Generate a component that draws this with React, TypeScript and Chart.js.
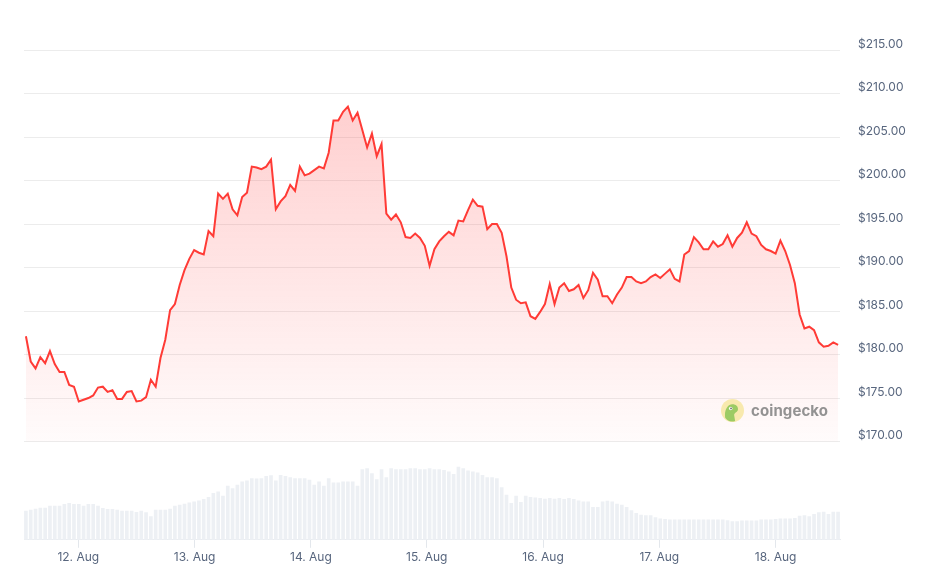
import React, { useEffect, useRef } from "react";
import { Chart, registerables } from "chart.js";

Chart.register(...registerables);

// Hourly samples (index = sample number)
const priceValues: number[] = [
  182.1, 179.2, 178.4, 179.7, 179.0, 180.4, 178.9, 178.0, 178.0, 176.5,
  176.3, 174.6, 174.8, 175.0, 175.3, 176.2, 176.3, 175.7, 175.9, 174.9,
  174.9, 175.7, 175.8, 174.6, 174.7, 175.1, 177.1, 176.3, 179.6, 181.7,
  185.1, 185.8, 188.0, 189.7, 191.0, 192.0, 191.7, 191.5, 194.2, 193.6,
  198.5, 197.9, 198.5, 196.7, 196.0, 198.1, 198.6, 201.6, 201.5, 201.3,
  201.6, 202.4, 196.7, 197.6, 198.2, 199.5, 198.8, 201.6, 200.6, 200.8,
  201.2, 201.6, 201.4, 203.2, 206.9, 206.9, 207.9, 208.5, 206.9, 207.8,
  205.8, 203.8, 205.4, 202.8, 204.2, 196.2, 195.5, 196.1, 195.2, 193.5,
  193.4, 193.9, 193.4, 192.5, 190.2, 192.1, 193.0, 193.6, 194.1, 193.7,
  195.4, 195.3, 196.6, 197.8, 197.1, 197.0, 194.4, 195.0, 195.0, 194.0,
  191.3, 187.7, 186.3, 185.9, 186.0, 184.4, 184.1, 184.9, 185.8, 188.1,
  185.8, 187.7, 188.2, 187.3, 187.5, 188.0, 186.5, 187.4, 189.4, 188.6,
  186.7, 186.7, 185.9, 186.9, 187.7, 188.9, 188.9, 188.4, 188.2, 188.4,
  188.9, 189.2, 188.8, 189.3, 189.8, 188.7, 188.4, 191.5, 191.9, 193.5,
  192.9, 192.1, 192.1, 193.0, 192.4, 192.7, 193.7, 192.4, 193.4, 194.0,
  195.2, 193.9, 193.6, 192.6, 192.1, 191.9, 191.6, 193.1, 191.9, 190.3,
  188.2, 184.6, 183.0, 183.2, 182.8, 181.4, 180.9, 181.0, 181.4, 181.1,
];

// Relative trading volume per sample
const volumeValues: number[] = [
  87, 90, 93, 96, 96, 102, 102, 102, 107, 110,
  107, 107, 102, 107, 107, 102, 95, 92, 92, 90,
  87, 87, 87, 83, 87, 82, 70, 90, 90, 90,
  93, 102, 105, 108, 112, 115, 118, 122, 128, 140,
  145, 132, 162, 155, 165, 175, 178, 185, 184, 185,
  192, 194, 178, 195, 192, 188, 185, 185, 185, 180,
  165, 175, 162, 185, 172, 172, 175, 175, 175, 162,
  212, 215, 200, 182, 212, 188, 215, 212, 212, 212,
  215, 215, 212, 212, 215, 212, 212, 210, 205, 198,
  220, 215, 208, 205, 202, 195, 188, 188, 185, 158,
  135, 110, 132, 113, 132, 128, 127, 125, 123, 125,
  123, 125, 122, 125, 122, 118, 115, 115, 98, 98,
  115, 117, 115, 108, 105, 98, 88, 80, 75, 73,
  73, 67, 63, 62, 60, 60, 60, 60, 60, 60,
  60, 60, 60, 60, 60, 60, 58, 55, 55, 57,
  57, 57, 57, 60, 60, 60, 62, 63, 63, 63,
  65, 72, 73, 70, 77, 82, 84, 77, 84, 84,
];

const dayLabels: string[] = ["12. Aug", "13. Aug", "14. Aug", "15. Aug", "16. Aug", "17. Aug", "18. Aug"];
const dayTickPositions: number[] = [10.9, 35.1, 59.3, 83.4, 107.6, 131.8, 156.0];
const priceTicks: number[] = [170, 175, 180, 185, 190, 195, 200, 205, 210, 215];

const FONT = "Inter, 'Noto Sans', Arial, sans-serif";
const TEXT_COLOR = "#58667e";

export default function App() {
  const canvasRef = useRef<HTMLCanvasElement | null>(null);

  useEffect(() => {
    if (!canvasRef.current) return;
    const chart = new Chart(canvasRef.current, {
      type: "line",
      data: {
        datasets: [
          {
            type: "line",
            label: "Price",
            data: priceValues.map((y, i) => ({ x: i, y })),
            yAxisID: "y",
            borderColor: "#ff3b36",
            borderWidth: 2,
            pointRadius: 0,
            tension: 0,
            fill: { value: 170 },
            backgroundColor: (ctx: any) => {
              const chart = ctx.chart;
              const { chartArea, scales } = chart;
              if (!chartArea || !scales.y) return "rgba(255,59,59,0.1)";
              const top = scales.y.getPixelForValue(210);
              const bottom = scales.y.getPixelForValue(170);
              const g = chart.ctx.createLinearGradient(0, top, 0, bottom);
              g.addColorStop(0, "rgba(255,59,59,0.25)");
              g.addColorStop(1, "rgba(255,59,59,0.02)");
              return g;
            },
            order: 1,
          } as any,
          {
            type: "bar",
            label: "Volume",
            data: volumeValues.map((y, i) => ({ x: i, y })),
            yAxisID: "yVol",
            backgroundColor: "#edf0f4",
            barThickness: 3,
            order: 2,
          } as any,
        ],
      },
      options: {
        animation: false,
        responsive: false,
        layout: { padding: { left: 16, top: 22, right: 0, bottom: 0 } },
        plugins: { legend: { display: false }, tooltip: { enabled: false } },
        scales: {
          x: {
            type: "linear",
            min: -0.4,
            max: 169.4,
            offset: false,
            afterBuildTicks: (scale: any) => {
              scale.ticks = dayTickPositions.map((v) => ({ value: v }));
            },
            afterFit: (scale: any) => {
              scale.height = 25;
            },
            grid: {
              drawOnChartArea: false,
              drawTicks: true,
              tickLength: 8,
              color: "#e3e7ec",
              offset: false,
            },
            border: { display: true, color: "#e9ecf0" },
            ticks: {
              autoSkip: false,
              maxRotation: 0,
              padding: 2,
              color: TEXT_COLOR,
              font: { family: FONT, size: 12 },
              callback: (value: any) => {
                const idx = dayTickPositions.indexOf(Number(value));
                return idx >= 0 ? dayLabels[idx] : "";
              },
            },
          },
          y: {
            type: "linear",
            position: "right",
            min: 158.7,
            max: 216.94,
            afterBuildTicks: (scale: any) => {
              scale.ticks = priceTicks.map((v) => ({ value: v }));
            },
            afterFit: (scale: any) => {
              scale.width = 86;
            },
            grid: { color: "#ececec", drawTicks: false },
            border: { display: false },
            ticks: {
              padding: 18,
              labelOffset: -6,
              color: TEXT_COLOR,
              font: { family: FONT, size: 12 },
              callback: (value: any) => "$" + Number(value).toFixed(2),
            },
          },
          yVol: {
            type: "linear",
            display: false,
            min: 0,
            max: 1530,
          },
        },
      } as any,
    });
    return () => chart.destroy();
  }, []);

  return (
    <div style={{ position: "relative", width: 918, height: 557 }}>
      <canvas ref={canvasRef} width={918} height={557} />
      <div
        style={{
          position: "absolute",
          left: 713,
          top: 391,
          display: "flex",
          alignItems: "center",
          gap: 7,
          opacity: 0.85,
        }}
      >
        <svg width="23" height="23" viewBox="0 0 22 22">
          <circle cx="11" cy="11" r="11" fill="#f7e7a1" />
          <path
            d="M4,18 C3,11 6,5 11,5 C15,5 17,8 16,11 C15,13 13,13 12.5,15 L13.5,21 C9.5,22.5 6,21 4,18 Z"
            fill="#8bc34a"
          />
          <circle cx="9.3" cy="9" r="1.7" fill="#ffffff" />
          <circle cx="9.6" cy="9" r="0.8" fill="#4a4a4a" />
        </svg>
        <span
          style={{
            fontFamily: FONT,
            fontWeight: 700,
            fontSize: 15,
            color: "#808080",
            letterSpacing: 0.1,
          }}
        >
          coingecko
        </span>
      </div>
    </div>
  );
}
